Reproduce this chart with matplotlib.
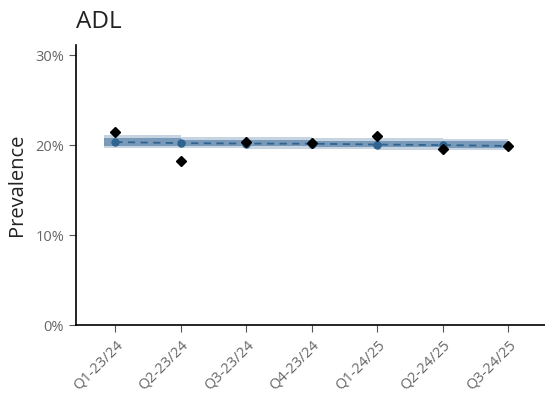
import matplotlib.pyplot as plt
from matplotlib.ticker import FuncFormatter

plt.rcParams['font.family'] = ['Open Sans', 'DejaVu Sans']

quarters = ['Q1-23/24', 'Q2-23/24', 'Q3-23/24', 'Q4-23/24',
            'Q1-24/25', 'Q2-24/25', 'Q3-24/25']
observed = [21.45, 18.2, 20.35, 20.2, 21.0, 19.6, 19.9]
fitted = [20.33, 20.22, 20.17, 20.15, 20.06, 20.0, 19.9]
outer_hi = [21.1, 20.9, 20.85, 20.8, 20.75, 20.7, 20.65]
outer_lo = [19.65, 19.65, 19.6, 19.55, 19.5, 19.45, 19.4]
inner_hi = [20.75, 20.6, 20.55, 20.5, 20.45, 20.4, 20.35]
inner_lo = [19.9, 19.9, 19.85, 19.8, 19.75, 19.7, 19.65]

x = list(range(len(quarters)))

fig = plt.figure(figsize=(5.45, 3.96), dpi=100)
ax = fig.add_axes([0.1394, 0.179, 0.8606, 0.707])

# shaded intervals drawn as steps between quarters
xs = [-0.17] + x[1:]
ax.fill_between(xs, outer_lo, outer_hi, step='post', color='#c6d3e0', lw=0, zorder=1)
ax.fill_between(xs, inner_lo, inner_hi, step='post', color='#7a9aba', lw=0, zorder=2)

ax.plot(x, fitted, ls=(0, (4, 3)), color='#2f6490', lw=1.3, marker='o',
        markersize=5, zorder=3)
ax.plot(x, observed, ls='none', marker='D', color='black', markersize=4.8, zorder=4)

ax.set_xlim(-0.6, 6.56)
ax.set_ylim(0, 31.1)
ax.set_yticks([0, 10, 20, 30])
ax.yaxis.set_major_formatter(FuncFormatter(lambda v, p: f'{v:.0f}%'))
ax.set_xticks(x)
ax.set_xticklabels(quarters, rotation=45, ha='right', rotation_mode='anchor')

for s in ['top', 'right']:
    ax.spines[s].set_visible(False)
for s in ['left', 'bottom']:
    ax.spines[s].set_linewidth(1.2)
    ax.spines[s].set_color('black')
ax.tick_params(colors='#555555', labelcolor='#666666', labelsize=10.5,
               length=5, width=0.8)
ax.tick_params(axis='x', pad=4)

ax.set_ylabel('Prevalence', fontsize=14.5, color='#222222', labelpad=6)
fig.text(0.14, 0.945, 'ADL', fontsize=17.5, color='#222222', va='center')

fig.savefig('out.png', dpi=100)
